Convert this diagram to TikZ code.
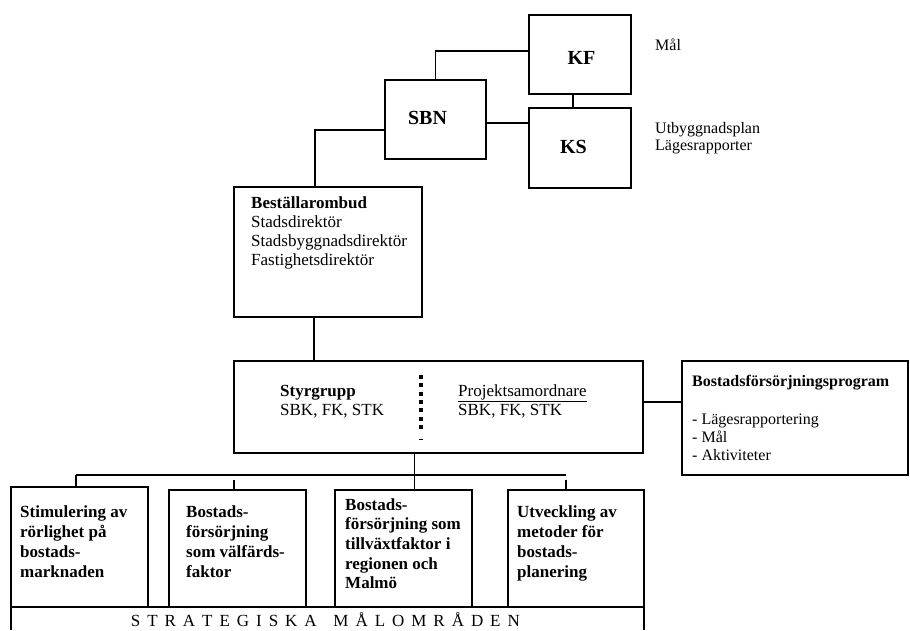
\documentclass[tikz,border=0pt]{standalone}
\usepackage{fontspec}
\setmainfont{Liberation Serif}
\begin{document}
\begin{tikzpicture}[x=1pt,y=-1pt,
  box/.style={draw,line width=1.8pt,inner sep=0,outer sep=0},
  ln/.style={line width=1.8pt},
  txt/.style={anchor=base west,inner sep=0,font=\fontsize{17}{19}\selectfont},
  btxt/.style={anchor=base west,inner sep=0,font=\fontsize{17}{19}\selectfont\bfseries},
  stxt/.style={anchor=base west,inner sep=0,font=\fontsize{16}{18}\selectfont},
  sbtxt/.style={anchor=base west,inner sep=0,font=\fontsize{16}{18}\selectfont\bfseries},
  big/.style={inner sep=0,font=\fontsize{20}{22}\selectfont\bfseries}]
\useasboundingbox (0,0) rectangle (910,630);

% top boxes
\node[box,minimum width=102pt,minimum height=79pt] (KF) at (580,54.5) {};
\node[box,minimum width=102pt,minimum height=80pt] (KS) at (580,148) {};
\node[box,minimum width=101pt,minimum height=79pt] (SBN) at (435.5,119.5) {};
\node[big] (KFt) at (581.5,57.5) {KF};
\node[big] (KSt) at (573.5,147) {KS};
\node[big] (SBNt) at (427.5,118.3) {SBN};

\node[stxt] (mal) at (655,50) {Mål};
\node[stxt] (utb) at (655,133) {Utbyggnadsplan};
\node[stxt] (lag) at (655,150) {Lägesrapporter};

% Beställarombud
\node[box,minimum width=188pt,minimum height=130pt] (best) at (328,252) {};
\node[btxt] (b0) at (251,208) {Beställarombud};
\foreach \t [count=\i] in {Stadsdirektör, Stadsbyggnadsdirektör, Fastighetsdirektör}
  \node[txt] (b\i) at (251,{208+19*\i}) {\t};

% Styrgrupp
\node[box,minimum width=409pt,minimum height=92pt] (styr) at (438.5,407) {};
\node[btxt] (s1) at (280,396) {Styrgrupp};
\node[txt] (s2) at (280,415) {SBK, FK, STK};
\node[txt] (p1) at (458,396) {\underline{Projektsamordnare}};
\node[txt] (p2) at (458,415) {SBK, FK, STK};
\coordinate (d1) at (421,375);
\coordinate (d2) at (421,433);
\draw[line width=3.8pt,dash pattern=on 4pt off 4.3pt] (d1) -- (d2);
\coordinate (d3) at (419,439.5);
\coordinate (d4) at (423,439.5);
\draw[line width=0.9pt] (d3) -- (d4);

% Program box
\node[box,minimum width=226pt,minimum height=114pt] (prog) at (795,418) {};
\node[sbtxt] (pr0) at (692,386) {Bostadsförsörjningsprogram};
\node[stxt] (pr1) at (692,424) {- Lägesrapportering};
\node[stxt] (pr2) at (692,442) {- Mål};
\node[stxt] (pr3) at (692,460) {- Aktiviteter};

% bottom boxes
\node[box,minimum width=137pt,minimum height=120pt] (m1) at (79.5,547) {};
\node[box,minimum width=137pt,minimum height=117pt] (m2) at (237.5,548.5) {};
\node[box,minimum width=137pt,minimum height=117pt] (m3) at (403.5,548.5) {};
\node[box,minimum width=136pt,minimum height=117pt] (m4) at (576,548.5) {};

\foreach \t [count=\i from 0] in {Stimulering av, rörlighet på, bostads-, marknaden}
  \node[btxt] (ma\i) at (20,{517+20*\i}) {\t};
\foreach \t [count=\i from 0] in {Bostads-, försörjning, som välfärds-, faktor}
  \node[btxt] (mb\i) at (186,{517+20*\i}) {\t};
\foreach \t [count=\i from 0] in {Bostads-, försörjning som, tillväxtfaktor i, regionen och, Malmö}
  \node[btxt] (mc\i) at (345,{510+19.7*\i}) {\t};
\foreach \t [count=\i from 0] in {Utveckling av, metoder för, bostads-, planering}
  \node[btxt] (md\i) at (517,{517+20*\i}) {\t};

% band
\coordinate (bandL) at (11,630);
\coordinate (bandR) at (644,630);
\draw[ln] (m1.south west) -- (m4.south east);
\draw[ln] (m1.south west) -- (bandL);
\draw[ln] (m4.south east) -- (bandR);
\node[txt] (band) at (130.7,626) {\makebox[389pt][s]{S\hfill T\hfill R\hfill A\hfill T\hfill E\hfill G\hfill I\hfill S\hfill K\hfill A\hspace{0pt plus 2.4fill}M\hfill Å\hfill L\hfill O\hfill M\hfill R\hfill Å\hfill D\hfill E\hfill N}};

% connectors
\draw[ln] ([yshift=3.5pt]KF.west) -| (SBN.north);
\draw[ln] ([xshift=-7.3pt]KF.south) -- ([xshift=-7.3pt]KS.north);
\draw[ln] ([yshift=-3.5pt]SBN.east) -- ([yshift=-3.5pt]SBN.east -| KS.west);
\draw[ln] ([yshift=-10.5pt]SBN.west) -| ([xshift=-13.3pt]best.north);
\draw[ln] ([xshift=-14.3pt]best.south) -- ([xshift=-14.3pt]best.south |- styr.north);
\draw[ln] ([yshift=5.3pt]styr.east) -- ([yshift=5.3pt]styr.east -| prog.west);
\draw[ln] ([xshift=-24pt]styr.south) -- ([xshift=-24pt]styr.south |- m3.north);

\coordinate (busL) at (76,475);
\coordinate (busR) at (566,475);
\draw[ln] (busL) -- (busR);
\draw[ln] (busL) -- (busL |- m1.north);
\coordinate (t2) at (234,480);
\coordinate (t4) at (566,480);
\draw[ln] (t2) -- (t2 |- m2.north);
\draw[ln] (t4) -- (t4 |- m4.north);
\end{tikzpicture}
\end{document}
